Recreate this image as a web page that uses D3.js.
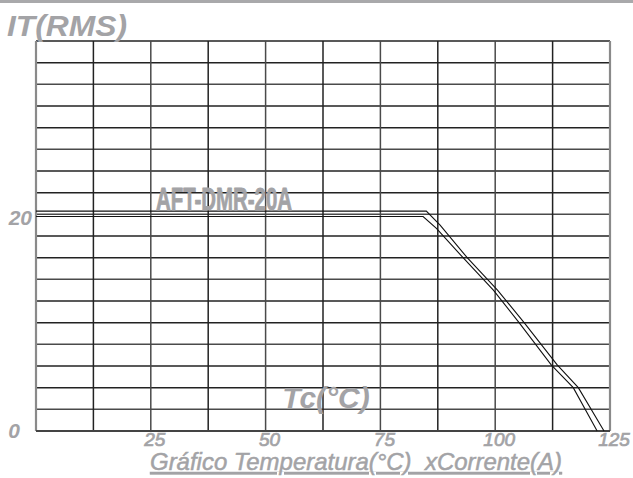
<!DOCTYPE html>
<html><head><meta charset="utf-8">
<script src="https://cdn.jsdelivr.net/npm/d3@7"></script>
<style>
html,body{margin:0;padding:0;background:#fff;}
svg{display:block;}
text{font-family:"Liberation Sans",Arial,sans-serif;}
</style></head>
<body>
<script>
// ---- data ----
const xTicks = [25, 50, 75, 100, 125];
const yTicks = [0, 20];
const xGrid = d3.range(0, 125.01, 12.5);
const yGrid = d3.range(0, 36.01, 2);
// upper (outer) trace of the derating curve: [Tc °C, IT(RMS) A]
const upperCurve = [[0,20.3],[85.0,20.3],[88.0,19.0],[93.9,16.0],[100.5,13.0],[106.3,10.0],[113.5,6.1],[118.1,4.0],[123.7,0]];
// lower (inner) trace
const lowerCurve = [[0,19.8],[84.3,19.8],[87.2,18.7],[93.0,16.0],[99.6,13.0],[105.2,10.0],[112.2,6.1],[117.0,4.0],[122.2,0]];
const modelLabel = "AFT-DMR-20A";
const yTitle = "IT(RMS)";
const xTitle = "Tc(°C)";
const caption = "Gráfico Temperatura(°C)  xCorrente(A)";

const W = 633, H = 478;
const svg = d3.select("body").append("svg").attr("width", W).attr("height", H);
const x = d3.scaleLinear().domain([0,125]).range([36,610]);
const y = d3.scaleLinear().domain([0,36]).range([431,41]);
const gray = "#a3a3a6";

// top bar
svg.append("rect").attr("x",0).attr("y",0).attr("width",W).attr("height",3).attr("fill","#a9a9ab");

// grid
svg.append("g").selectAll("line").data(yGrid).join("line")
  .attr("x1", x(0)).attr("x2", x(125))
  .attr("y1", d=>y(d)).attr("y2", d=>y(d))
  .attr("stroke", (d,i)=> i%3===1 ? "#4a4a4a" : "#222").attr("stroke-width",1.5);
svg.append("g").selectAll("line").data(xGrid).join("line")
  .attr("x1", d=>x(d)).attr("x2", d=>x(d))
  .attr("y1", y(0)).attr("y2", y(36))
  .attr("stroke", (d,i)=> (i===0||i===10) ? "#8a8a8a" : (i%2===0 ? "#4a4a4a" : "#222"))
  .attr("stroke-width", (d,i)=> (i===0||i===10) ? 2.2 : 1.5);
// bottom axis line
svg.append("line").attr("x1",x(0)).attr("x2",x(125)).attr("y1",y(0)).attr("y2",y(0))
  .attr("stroke","#444").attr("stroke-width",2);

// curves
const line = d3.line().x(d=>x(d[0])).y(d=>y(d[1]));
[upperCurve, lowerCurve].forEach(c=>{
  svg.append("path").datum(c).attr("d", line).attr("fill","none")
    .attr("stroke","#111").attr("stroke-width",1.1);
});

// model label
svg.append("text").attr("x",156).attr("y",210).text(modelLabel)
  .attr("font-size",32).attr("font-weight","bold").attr("fill",gray)
  .attr("stroke",gray).attr("stroke-width",0.8).attr("stroke-linejoin","round")
  .attr("textLength",136).attr("lengthAdjust","spacingAndGlyphs");

// y title
svg.append("text").attr("x",7).attr("y",36).text(yTitle)
  .attr("font-size",29).attr("font-weight","bold").attr("font-style","italic").attr("fill",gray)
  .attr("textLength",120).attr("lengthAdjust","spacingAndGlyphs");

// y tick labels
svg.append("g").selectAll("text").data(yTicks).join("text")
  .attr("x", d=> d===0 ? 20 : 32).attr("y", d=>y(d)+ (d===0?7:11))
  .attr("text-anchor","end").text(d=>d)
  .attr("font-size",21).attr("font-weight","bold").attr("font-style","italic").attr("fill",gray);

// x tick labels
svg.append("g").selectAll("text").data(xTicks).join("text")
  .attr("x", d=>x(d)+4).attr("y", 446)
  .attr("text-anchor","middle").text(d=>d)
  .attr("font-size",19).attr("font-style","italic").attr("fill",gray)
  .attr("stroke",gray).attr("stroke-width",0.7);

// x title
svg.append("text").attr("x",326).attr("y",408).attr("text-anchor","middle").text(xTitle)
  .attr("font-size",30).attr("font-weight","bold").attr("font-style","italic").attr("fill",gray);

// caption
svg.append("text").attr("x",150).attr("y",470).text(caption)
  .style("white-space","pre")
  .attr("font-size",24).attr("font-style","italic").attr("fill",gray)
  .attr("stroke",gray).attr("stroke-width",0.5)
  .attr("text-decoration","underline")
  .attr("textLength",412).attr("lengthAdjust","spacingAndGlyphs");
</script>
</body></html>
